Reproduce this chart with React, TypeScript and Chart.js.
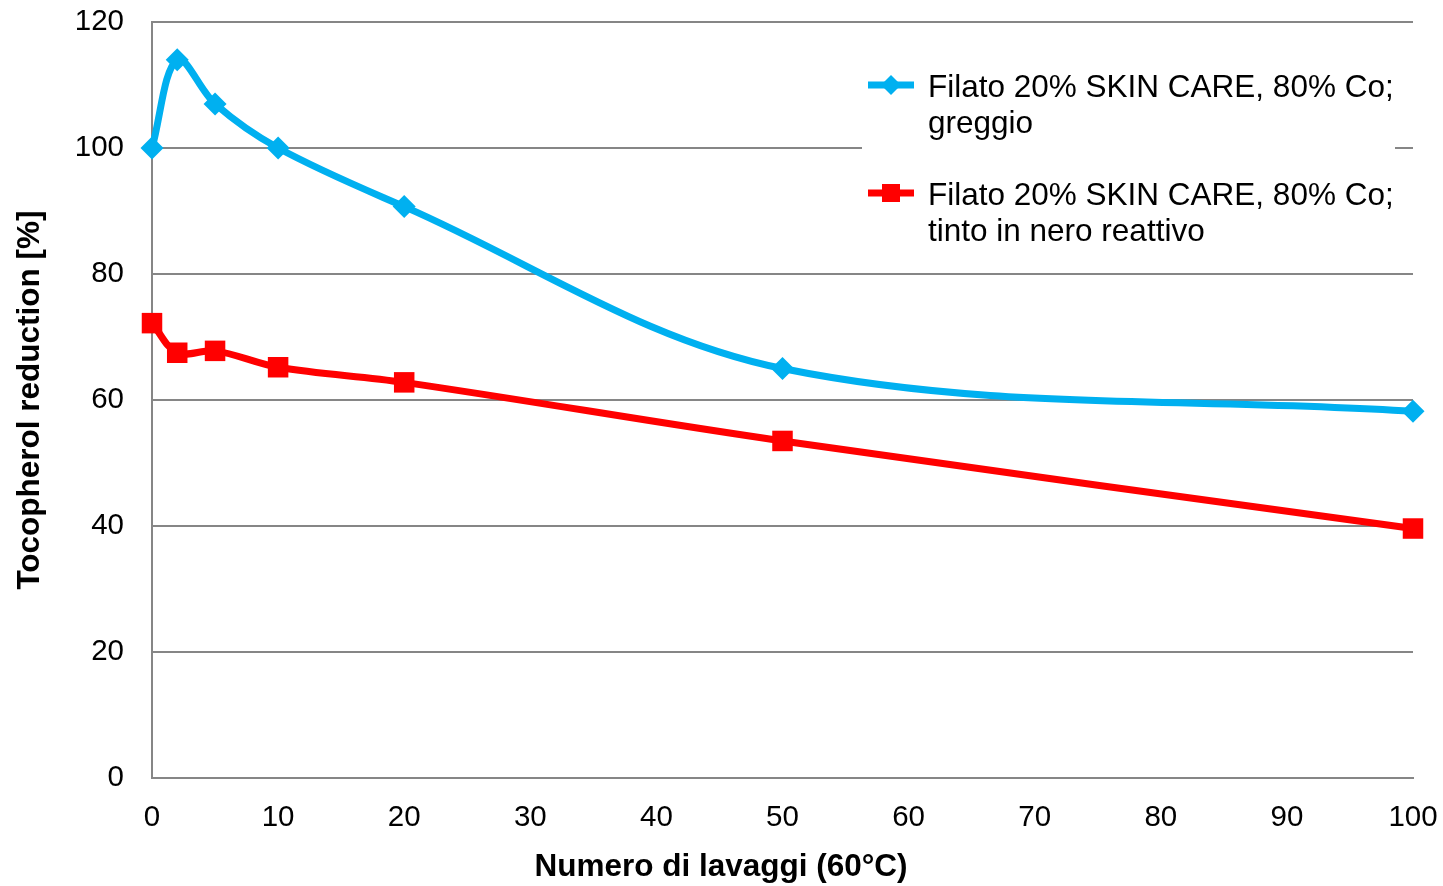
import React, { useEffect, useRef } from "react";
import { Chart, registerables } from "chart.js";

Chart.register(...registerables);

const washes = [0, 2, 5, 10, 20, 50, 100];
const rawYarn = [100, 114, 107, 100, 90.7, 65, 58.2];
const dyedYarn = [72.2, 67.5, 67.8, 65.2, 62.8, 53.5, 39.6];
const seriesNames = [
  ["Filato 20% SKIN CARE, 80% Co;", "greggio"],
  ["Filato 20% SKIN CARE, 80% Co;", "tinto in nero reattivo"],
];
const seriesColors = ["#00B0F0", "#FF0000"];
const xTitle = "Numero di lavaggi (60°C)";
const yTitle = "Tocopherol reduction [%]";

const FONT = "'Liberation Sans', Arial, sans-serif";
const GRID = "#868686";

const legendPlugin = {
  id: "customLegend",
  afterDraw(chart: any) {
    const ctx = chart.ctx;
    ctx.save();
    // x-axis title, centred on the whole figure
    ctx.fillStyle = "#000000";
    ctx.font = `bold 31.5px ${FONT}`;
    ctx.textAlign = "center";
    ctx.textBaseline = "middle";
    ctx.fillText(xTitle, 721, 867);

    ctx.fillStyle = "#ffffff";
    ctx.fillRect(862, 52, 533, 200);
    const entries = [
      { y: 85, base: 97, style: "diamond" },
      { y: 193, base: 205, style: "square" },
    ];
    entries.forEach((e, i) => {
      const color = seriesColors[i];
      ctx.strokeStyle = color;
      ctx.lineWidth = 7;
      ctx.beginPath();
      ctx.moveTo(868, e.y);
      ctx.lineTo(914, e.y);
      ctx.stroke();
      ctx.fillStyle = color;
      ctx.beginPath();
      if (e.style === "diamond") {
        ctx.moveTo(891, e.y - 10);
        ctx.lineTo(901, e.y);
        ctx.lineTo(891, e.y + 10);
        ctx.lineTo(881, e.y);
        ctx.closePath();
      } else {
        ctx.rect(882, e.y - 9, 18, 18);
      }
      ctx.fill();
      ctx.fillStyle = "#000000";
      ctx.font = `31.5px ${FONT}`;
      ctx.textBaseline = "alphabetic";
      ctx.textAlign = "left";
      seriesNames[i].forEach((line, j) => {
        ctx.fillText(line, 928, e.base + j * 36);
      });
    });
    ctx.restore();
  },
};

export default function App() {
  const ref = useRef<HTMLCanvasElement | null>(null);
  useEffect(() => {
    if (!ref.current) return;
    const chart = new Chart(ref.current, {
      type: "line",
      data: {
        datasets: [
          {
            label: seriesNames[0].join(" "),
            data: washes.map((x, i) => ({ x, y: rawYarn[i] })),
            borderColor: seriesColors[0],
            backgroundColor: seriesColors[0],
            borderWidth: 7,
            pointStyle: "rectRot",
            pointRadius: 11.5,
            pointBorderWidth: 0,
            tension: 0.35,
            clip: false,
          },
          {
            label: seriesNames[1].join(" "),
            data: washes.map((x, i) => ({ x, y: dyedYarn[i] })),
            borderColor: seriesColors[1],
            backgroundColor: seriesColors[1],
            borderWidth: 7,
            pointStyle: "rect",
            pointRadius: 14.5,
            pointBorderWidth: 0,
            tension: 0.35,
            clip: false,
          },
        ],
      },
      options: {
        animation: false,
        responsive: true,
        maintainAspectRatio: false,
        layout: { autoPadding: false, padding: { top: 22, right: 30, left: 0, bottom: 0 } },
        plugins: { legend: { display: false }, tooltip: { enabled: false } },
        scales: {
          x: {
            type: "linear",
            min: 0,
            max: 100,
            ticks: {
              stepSize: 10,
              color: "#000",
              font: { family: FONT, size: 29.5 },
              padding: 22,
              maxRotation: 0,
            },
            grid: { display: false, drawTicks: false },
            border: { display: true, color: GRID, width: 2 },
            title: { display: false, text: xTitle },
            afterFit: (s: any) => {
              s.height = 108;
              s.paddingLeft = 0;
              s.paddingRight = 0;
            },
          },
          y: {
            type: "linear",
            min: 0,
            max: 120,
            ticks: {
              stepSize: 20,
              color: "#000",
              font: { family: FONT, size: 29.5 },
              padding: 28,
            },
            grid: { display: true, drawTicks: false, color: GRID, lineWidth: 2 },
            border: { display: true, color: GRID, width: 2 },
            title: {
              display: true,
              text: yTitle,
              color: "#000",
              font: { family: FONT, size: 31.5, weight: "bold" },
              padding: { top: 11, bottom: 0 },
            },
            afterFit: (s: any) => {
              s.width = 152;
              s.paddingTop = 0;
              s.paddingBottom = 0;
            },
          },
        },
      },
      plugins: [legendPlugin],
    });
    return () => chart.destroy();
  }, []);
  return (
    <div style={{ position: "absolute", left: 0, top: 0, width: 1443, height: 886, background: "#fff" }}>
      <canvas ref={ref} />
    </div>
  );
}
